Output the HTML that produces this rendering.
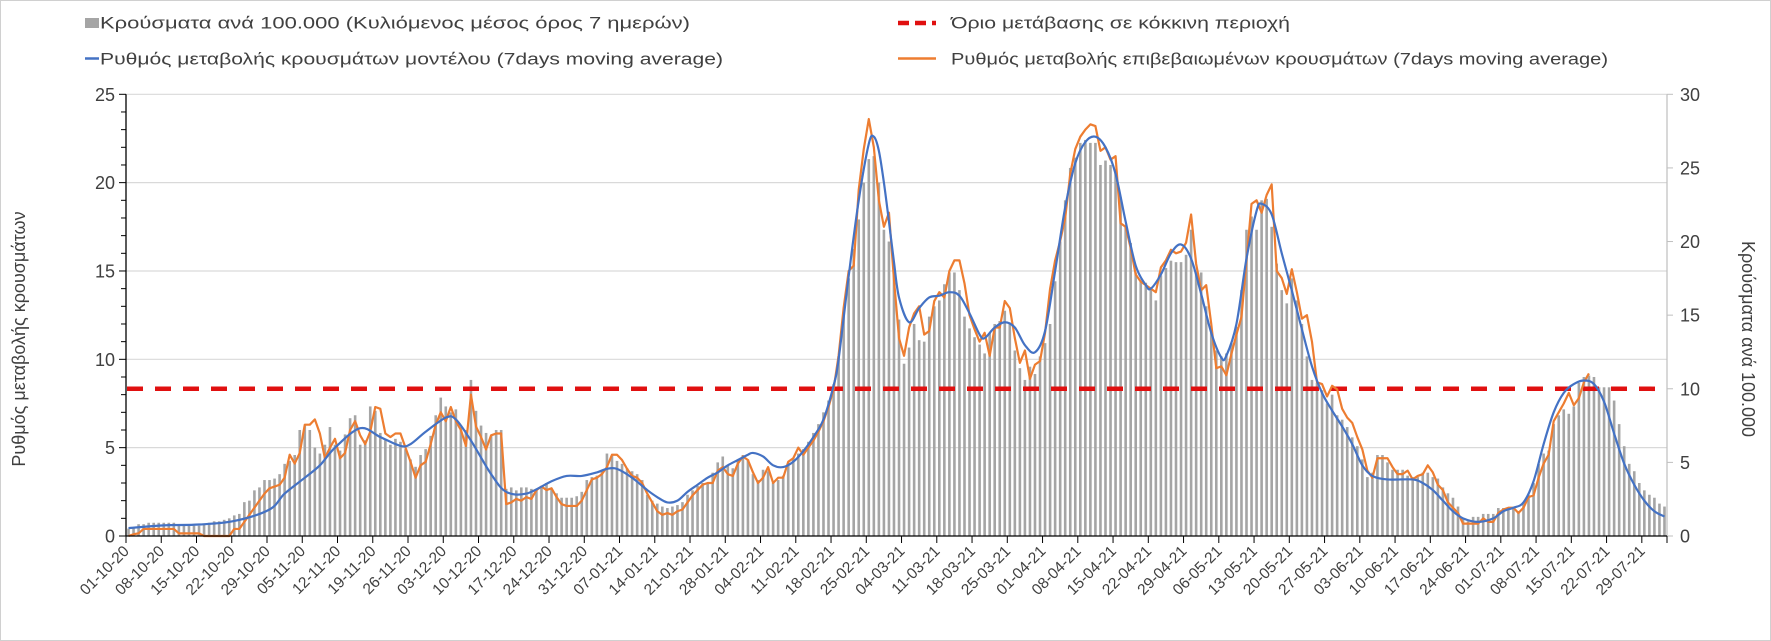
<!DOCTYPE html>
<html><head><meta charset="utf-8">
<style>
html,body{margin:0;padding:0;background:#fff;}
#wrap{position:relative;width:1771px;height:641px;overflow:hidden;}
svg text{font-family:"Liberation Sans","DejaVu Sans",sans-serif;}
</style></head>
<body>
<div id="wrap">
<svg id="chart" width="1771" height="641" viewBox="0 0 1771 641" xmlns="http://www.w3.org/2000/svg">
<rect x="0.5" y="0.5" width="1770" height="640" fill="#fff" stroke="#d0d0d0"/>
<g id="grid"></g>
<g id="bars"></g>
<line x1="127" y1="388.8" x2="1655" y2="388.8" stroke="#e01010" stroke-width="4.5" stroke-dasharray="16,12"/>
<g id="lines"></g>
<g id="axes"></g>
<g id="legend">
  <rect x="85" y="18" width="14" height="10" fill="#a5a5a5"/>
  <text x="100" y="28.5" font-size="17" fill="#404040" textLength="590" lengthAdjust="spacingAndGlyphs">Κρούσματα ανά 100.000 (Κυλιόμενος μέσος όρος 7 ημερών)</text>
  <line x1="85" y1="58.5" x2="99" y2="58.5" stroke="#4472c4" stroke-width="2.5"/>
  <text x="100" y="64.5" font-size="17" fill="#404040" textLength="623" lengthAdjust="spacingAndGlyphs">Ρυθμός μεταβολής κρουσμάτων μοντέλου (7days moving average)</text>
  <line x1="898" y1="23" x2="936" y2="23" stroke="#e01010" stroke-width="4.5" stroke-dasharray="11,6"/>
  <text x="951" y="28.5" font-size="17" fill="#404040" textLength="339" lengthAdjust="spacingAndGlyphs">Όριο μετάβασης σε κόκκινη περιοχή</text>
  <line x1="898" y1="58.5" x2="936" y2="58.5" stroke="#ed7d31" stroke-width="2.5"/>
  <text x="951" y="64.5" font-size="17" fill="#404040" textLength="657" lengthAdjust="spacingAndGlyphs">Ρυθμός μεταβολής επιβεβαιωμένων κρουσμάτων (7days moving average)</text>
</g>
<text x="0" y="0" transform="translate(25,339) rotate(-90)" text-anchor="middle" font-size="18" fill="#404040">Ρυθμός μεταβολής κρουσμάτων</text>
<text x="0" y="0" transform="translate(1742,339) rotate(90)" text-anchor="middle" font-size="18" fill="#404040">Κρούσματα ανά 100.000</text>
</svg>
</div>
<script>
const NS="http://www.w3.org/2000/svg";
const leftTicks=[0,5,10,15,20,25];
const rightTicks=[0,5,10,15,20,25,30];
const dateLabels=["01-10-20","08-10-20","15-10-20","22-10-20","29-10-20","05-11-20","12-11-20","19-11-20","26-11-20","03-12-20","10-12-20","17-12-20","24-12-20","31-12-20","07-01-21","14-01-21","21-01-21","28-01-21","04-02-21","11-02-21","18-02-21","25-02-21","04-03-21","11-03-21","18-03-21","25-03-21","01-04-21","08-04-21","15-04-21","22-04-21","29-04-21","06-05-21","13-05-21","20-05-21","27-05-21","03-06-21","10-06-21","17-06-21","24-06-21","01-07-21","08-07-21","15-07-21","22-07-21","29-07-21"];
const barValues=[
0.5,0.6,0.8,0.8,0.9,0.9,0.9, 0.9,0.9,0.9,0.8,0.8,0.7,0.7, 0.7,0.8,0.9,1.0,1.0,1.1,1.2,
1.4,1.5,2.3,2.4,3.1,3.3,3.8, 3.8,3.9,4.2,4.9,5.1,5.5,7.2, 7.5,7.2,6.0,5.6,6.2,7.4,6.2,
5.8,6.9,8.0,8.2,6.2,6.5,8.8, 8.5,7.0,6.5,6.2,6.6,6.4,5.9, 5.2,4.7,5.5,5.9,6.8,8.2,9.4,
8.8,8.4,8.6,7.4,7.2,10.6,8.5, 7.5,7.0,6.8,7.2,7.2,3.2,3.3, 3.1,3.3,3.3,3.2,3.2,3.4,3.6,
3.2,2.9,2.6,2.6,2.6,2.7,3.0, 3.8,4.0,4.1,4.4,5.6,5.5,5.1, 4.9,4.6,4.4,4.2,3.8,2.8,2.4,
2.2,2.0,1.9,2.0,2.1,2.3,2.8, 3.1,3.4,3.6,3.6,4.3,5.0,5.4, 4.8,4.6,5.1,5.5,5.2,4.2,3.8,
4.5,4.4,3.6,3.8,4.1,5.0,5.3, 5.6,5.9,6.4,7.0,7.6,8.4,9.2, 10.3,12.2,15.0,17.5,19.5,21.5,24.0,
25.6,25.8,24.0,20.8,20.0,17.8,
14.7,11.7,12.8,14.4,13.3,13.2,14.9, 15.6,16.0,17.1,17.9,17.9,16.7,14.9, 14.1,13.5,13.0,12.4,13.8,14.4,14.6,
15.3,14.5,12.6,11.4,10.6,11.5,11.0, 12.2,13.1,14.4,17.3,20.0,22.8,25.0, 25.7,26.7,26.9,26.7,26.7,25.2,25.5,
25.2,24.8,23.0,21.1,19.9,17.9,17.3, 17.2,16.9,16.0,17.7,18.2,18.7,18.6, 18.6,19.1,20.8,17.9,17.9,15.6,14.0,
12.6,12.2,12.4,13.1,14.2,16.7,20.8, 21.7,20.8,22.8,22.9,21.0,18.5,
16.7,15.8,17.5,16.0,14.4,12.2,10.6, 10.4,9.9,9.0,9.6,8.2,7.9,7.4, 6.7,6.1,5.2,4.0,4.3,5.5,5.5,
5.0,4.5,4.5,4.5,4.1,4.0,4.0, 4.3,4.3,4.0,3.9,3.3,2.9,2.6, 2.0,1.2,1.0,1.3,1.3,1.5,1.5,
1.5,1.9,1.9,1.9,1.9,1.7,2.3, 2.8,3.6,4.9,5.6,5.8,7.6,8.2, 8.6,8.3,8.8,10.4,10.8,10.9,10.8,
10.1,10.1,10.1,9.2,7.6,6.1,4.9, 4.4,3.6,3.1,2.8,2.6,2.2,2.0];
const orangeValues=[
0,0.1,0.15,0.4,0.4,0.4,0.4,0.4,0.4,0.4,0.15,0.15,0.15,0.15,0.15,0,0,0,0,0,0,
0.4,0.4,0.8,1.2,1.6,2.0,2.4,2.7,2.8,2.9,
3.3,4.6,4.1,4.7,6.3,6.3,6.6,5.8,4.4,5.0,
5.5,4.4,4.7,6.0,6.5,5.7,5.2,5.9,7.3,7.2,
5.8,5.6,5.8,5.8,5.0,4.2,3.3,4.0,4.2,5.2,
6.3,7.0,6.5,7.3,6.5,6.0,5.1,8.0,6.2,5.6,
4.9,5.7,5.8,5.8,1.8,1.9,2.1,2.0,2.2,2.1,
2.6,2.8,2.6,2.7,2.2,1.8,1.7,1.7,1.7,2.0,
2.6,3.2,3.3,3.5,3.9,4.6,4.6,4.3,3.8,3.4,
3.3,3.0,2.4,1.9,1.4,1.2,1.3,1.2,1.4,1.5,
1.9,2.3,2.6,2.9,3.0,3.0,3.7,3.9,3.5,3.4,
4.1,4.5,4.3,3.6,3.0,3.3,3.9,3.0,3.3,3.3,
4.2,4.4,5.0,4.6,5.0,5.4,5.9,6.5,7.3,8.3,
10.2,12.9,15.0,15.3,19.6,21.9,23.6,22.0,19.0,17.5,18.3,
14.5,11.2,10.2,11.8,12.6,13.0,11.4,11.6,13.3,13.8,
13.5,15.0,15.6,15.6,14.3,12.5,11.7,11.0,11.5,10.2,
11.8,11.8,13.3,12.9,11.2,9.8,10.5,8.9,9.7,9.9,
11.5,14.0,15.6,16.7,18.0,20.5,21.9,22.6,23.0,23.3,
23.2,21.8,22.0,21.3,21.5,17.7,17.5,16.3,14.8,14.4,
14.2,14.0,13.8,15.2,15.6,16.2,16.0,16.1,16.6,18.2,
15.4,13.9,14.2,12.0,9.5,9.6,9.1,10.3,11.4,12.4,
15.6,18.8,19.0,18.3,19.3,19.9,
15.0,14.6,13.7,15.1,13.8,12.3,12.5,11.0,8.7,8.6,
7.9,8.5,8.3,7.2,6.7,6.4,5.6,4.9,3.7,3.3,
4.4,4.4,4.4,3.9,3.5,3.5,3.7,3.2,3.4,3.5,
4.0,3.6,2.9,2.6,1.9,1.6,1.3,0.7,0.7,0.7,
0.7,1.0,0.8,0.8,1.3,1.5,1.6,1.6,1.3,1.6,
2.2,2.3,3.3,4.1,4.6,6.5,7.0,7.5,8.1,7.4,
7.8,8.7,9.2];
const blueDays=[0,7,14,21,28,31,35,38,41,46,50,54,56,59,63,65,68,72,75,79,84,87,90,93,95,97,100,103,105,107,109,111,113,115,117,119,121,123,124,126,128,130,132,134,136,138,140,141,143,145,147,148,149,150,151,152,153,155,157,159,161,163,165,167,169,170,172,174,176,178,180,182,184,186,188,190,192,194,196,198,200,202,203,205,207,209,211,213,215,217,218,220,222,224,225,227,229,231,233,235,237,239,241,243,245,247,250,255,257,259,261,263,265,268,271,273,275,277,279,281,283,285,287,289,291,293,295,297,299,301,303,305];
const blueValues=[0.45,0.6,0.65,0.85,1.5,2.4,3.3,4.0,5.0,6.1,5.6,5.1,5.2,5.9,6.7,6.6,5.4,3.5,2.5,2.4,3.1,3.4,3.4,3.6,3.8,3.8,3.3,2.6,2.2,1.9,2.0,2.5,2.9,3.3,3.6,4.0,4.3,4.6,4.7,4.5,4.0,3.9,4.2,4.8,5.6,6.6,8.5,10.0,14.7,19.0,22.2,22.6,21.8,20.0,17.8,15.5,13.5,12.1,12.9,13.5,13.6,13.8,13.6,12.6,11.4,11.2,11.8,12.1,11.8,10.8,10.4,11.6,15.0,18.6,21.1,22.3,22.6,22.0,20.5,17.8,15.3,14.2,14.0,14.8,16.0,16.5,15.7,13.7,11.5,10.1,10.2,12.0,15.7,18.4,18.8,18.2,16.0,13.9,11.7,9.6,8.1,7.1,6.2,5.2,4.0,3.4,3.2,3.2,3.0,2.6,2.0,1.4,1.0,0.8,1.0,1.4,1.6,1.9,3.1,5.2,7.0,8.1,8.6,8.8,8.6,7.6,5.8,4.1,2.9,2.0,1.4,1.1];

const NDAYS=306, X0=126, X1=1667, Y0=536, YT=94.3;
const W=(X1-X0)/NDAYS;
const xDay=d=>X0+(d+0.5)*W;
const xTick=d=>X0+d*W;
const yL=v=>Y0-(v/25)*(Y0-YT);
const yR=v=>Y0-(v/30)*(Y0-YT);
function mk(tag,attrs,parent){const e=document.createElementNS(NS,tag);for(const k in attrs)e.setAttribute(k,attrs[k]);parent.appendChild(e);return e;}

const grid=document.getElementById('grid');
leftTicks.forEach(v=>{ if(v===0)return;
  const l=mk('line',{x1:X0,x2:X1,y1:yL(v),y2:yL(v),stroke:'#d9d9d9','stroke-width':1.2},grid);
  
  
});

const bars=document.getElementById('bars');
barValues.forEach((v,i)=>{
  const r=mk('rect',{x:xDay(i)-1.3,y:yR(v),width:2.6,height:Y0-yR(v),fill:'#a5a5a5'},bars);
  
  
});

const lines=document.getElementById('lines');
const bp=blueDays.map((d,i)=>[xDay(d),yL(blueValues[i])]);
let dB='M'+bp[0][0]+','+bp[0][1];
for(let i=0;i<bp.length-1;i++){
  const p0=bp[Math.max(0,i-1)],p1=bp[i],p2=bp[i+1],p3=bp[Math.min(bp.length-1,i+2)];
  const c1=[p1[0]+(p2[0]-p0[0])/6,p1[1]+(p2[1]-p0[1])/6];
  const c2=[p2[0]-(p3[0]-p1[0])/6,p2[1]-(p3[1]-p1[1])/6];
  dB+=' C'+c1[0].toFixed(2)+','+c1[1].toFixed(2)+' '+c2[0].toFixed(2)+','+c2[1].toFixed(2)+' '+p2[0].toFixed(2)+','+p2[1].toFixed(2);
}
const oPts=orangeValues.map((v,i)=>xDay(i).toFixed(2)+','+yL(v).toFixed(2)).join(' ');
const ol=mk('polyline',{points:oPts,fill:'none',stroke:'#ed7d31','stroke-width':2.2,'stroke-linejoin':'round'},lines);


const bl=mk('path',{d:dB,fill:'none',stroke:'#4472c4','stroke-width':2.2},lines);



const axes=document.getElementById('axes');
const la=mk('line',{x1:X0,x2:X0,y1:YT,y2:Y0,stroke:'#000','stroke-width':1.3},axes);


const ra=mk('line',{x1:X1,x2:X1,y1:YT,y2:Y0,stroke:'#bfbfbf','stroke-width':1.2},axes);


const xa=mk('line',{x1:X0,x2:X1,y1:Y0,y2:Y0,stroke:'#000','stroke-width':1.3},axes);


for(let v=0;v<=25;v++){
  const major=v%5===0;
  const t=mk('line',{x1:X0-(major?7:5),x2:X0,y1:yL(v),y2:yL(v),stroke:'#000','stroke-width':1},axes);
  
  
}
leftTicks.forEach(v=>{
  const t=mk('text',{x:X0-11,y:yL(v)+6.5,'text-anchor':'end','font-size':18,fill:'#404040'},axes);
  t.textContent=v;
  
  
});
rightTicks.forEach(v=>{
  const tk=mk('line',{x1:X1,x2:X1+6,y1:yR(v),y2:yR(v),stroke:'#bfbfbf','stroke-width':1},axes);
  
  
  const t=mk('text',{x:X1+13,y:yR(v)+6.5,'font-size':18,fill:'#404040'},axes);
  t.textContent=v;
  
  
});
dateLabels.forEach((lab,i)=>{
  const x=xTick(i*7);
  const tk=mk('line',{x1:x,x2:x,y1:Y0,y2:Y0+7,stroke:'#000','stroke-width':1},axes);
  
  
  const t=mk('text',{x:0,y:0,transform:'translate('+(x+4)+','+(Y0+16)+') rotate(-45)','text-anchor':'end','font-size':15.5,fill:'#404040'},axes);
  t.textContent=lab;
  
  
});
const lt=mk('line',{x1:X1,x2:X1,y1:Y0,y2:Y0+7,stroke:'#000','stroke-width':1},axes);


</script>
</body></html>
